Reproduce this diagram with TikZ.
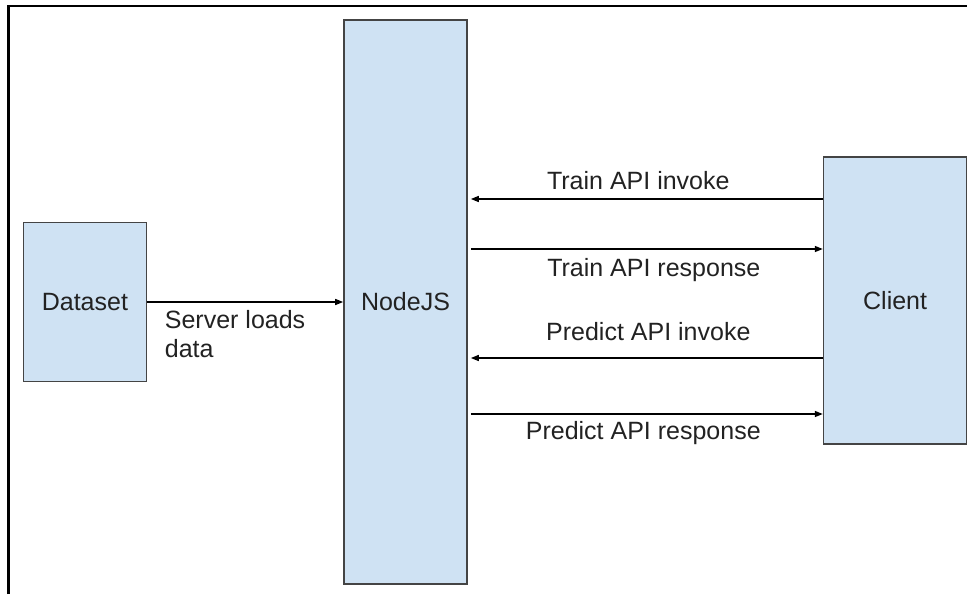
\documentclass[tikz,border=0pt]{standalone}
\usepackage{fontspec}
\setmainfont{Liberation Sans}
\usepackage{xcolor}
\usetikzlibrary{arrows.meta, positioning}

\definecolor{boxblue}{HTML}{CFE2F3}
\definecolor{boxedge}{HTML}{444444}
\definecolor{inktext}{HTML}{222222}

\begin{document}
\begin{tikzpicture}[x=0.5pt, y=-0.5pt,
    box/.style={draw=boxedge, fill=boxblue, line width=0.8pt, inner sep=0pt,
        font=\fontsize{12.5}{14.5}\selectfont, text=inktext},
    flow/.style={line width=0.7pt, -{Triangle[length=4pt, width=3pt]}},
    lbl/.style={font=\fontsize{12.5}{14.5}\selectfont, text=inktext, inner sep=0pt}]
    \useasboundingbox (0,0) rectangle (967,594);

    % frame
    \draw[line width=1.4pt] (8.5,594) -- (8.5,6) -- (967,6);

    % boxes
    \node[box, minimum width=61.5pt, minimum height=282pt] (nodejs) at (405.5,302) {NodeJS};
    \node[box, minimum width=61.5pt, minimum height=79.5pt, left=98pt of nodejs] (dataset) {Dataset};
    \node[box, minimum width=71.5pt, minimum height=143.5pt, right=177.5pt of nodejs, yshift=0.75pt] (client) {Client};

    % connectors
    \draw[flow] (dataset.east) -- (nodejs.west)
        node[lbl, at start, anchor=north west, align=left, xshift=8.5pt, yshift=-4pt] {Server loads\\data};
    \draw[flow, shorten >=1.5pt] (client.west |- 0,199) --
        node[lbl, yshift=9pt, xshift=-3.5pt] {Train API invoke} (nodejs.east |- 0,199);
    \draw[flow, shorten <=1.5pt] (nodejs.east |- 0,249) --
        node[lbl, yshift=-10.5pt, xshift=4.25pt] {Train API response} (client.west |- 0,249);
    \draw[flow, shorten >=1.5pt] (client.west |- 0,358) --
        node[lbl, yshift=13pt, xshift=1.5pt] {Predict API invoke} (nodejs.east |- 0,358);
    \draw[flow, shorten <=1.5pt] (nodejs.east |- 0,414) --
        node[lbl, yshift=-9.5pt, xshift=-1pt] {Predict API response} (client.west |- 0,414);
\end{tikzpicture}
\end{document}
